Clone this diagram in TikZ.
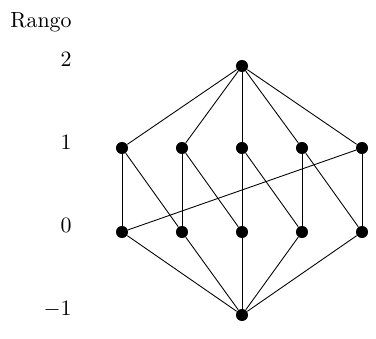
\documentclass[tikz,border=0pt]{standalone}
\begin{document}
\begin{tikzpicture}[x=0.457pt,y=-0.457pt,
  vtx/.style={circle,fill=black,inner sep=0pt,minimum size=5.5pt},
  rk/.style={anchor=base east,inner sep=0pt},
  edge/.style={line width=0.4pt}]
\useasboundingbox (0,0) rectangle (376,339);
\node[rk] (rango) at (72,28) {Rango};
\node[rk] (l2) at (72,67) {$2$};
\node[rk] (l1) at (72,150) {$1$};
\node[rk] (l0) at (72,233) {$0$};
\node[rk] (lm) at (72,316) {$-1$};
\node[vtx] (t) at (242,66) {};
\foreach \i/\x in {1/122,2/182,3/242,4/302,5/362}{
  \node[vtx] (a\i) at (\x,148) {};
  \node[vtx] (b\i) at (\x,232) {};
}
\node[vtx] (z) at (242,315) {};
\foreach \i in {1,...,5}{
  \draw[edge] (t) -- (a\i);
  \draw[edge] (a\i) -- (b\i);
  \draw[edge] (b\i) -- (z);
}
\draw[edge] (a1) -- (b2);
\draw[edge] (a2) -- (b3);
\draw[edge] (a3) -- (b4);
\draw[edge] (a4) -- (b5);
\draw[edge] (a5) -- (b1);
\end{tikzpicture}
\end{document}
